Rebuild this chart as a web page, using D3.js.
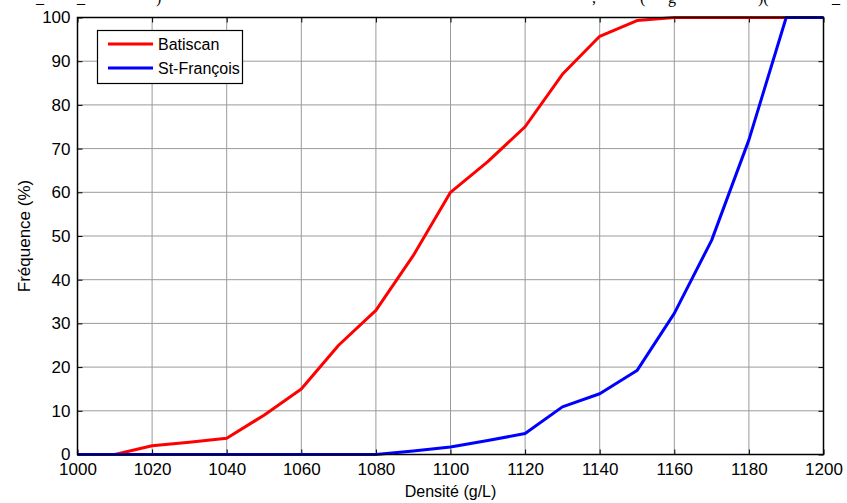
<!DOCTYPE html>
<html><head><meta charset="utf-8">
<script src="https://cdn.jsdelivr.net/npm/d3@7"></script>
<style>body{margin:0;background:#fff}svg{display:block}</style>
</head><body>
<script>
const densite = [1000,1010,1020,1030,1040,1050,1060,1070,1080,1090,1100,1110,1120,1130,1140,1150,1160,1170,1180,1190,1200];
const batiscan = [0,0,2,2.8,3.7,9,15,25,33,45.5,60,67,75,87,95.7,99.3,100,100,100,100,100];
const stFrancois = [0,0,0,0,0,0,0,0,0,0.8,1.7,3.2,4.8,10.9,13.9,19.2,32.3,49,72,100,100];
const seriesNames = ["Batiscan","St-François"];
const seriesColors = ["#ff0000","#0000ff"];
const xTicks = [1000,1020,1040,1060,1080,1100,1120,1140,1160,1180,1200];
const yTicks = [0,10,20,30,40,50,60,70,80,90,100];
// fragments of the cut-off document line above the figure
const topFragments = [["_",36],["_",77],[")",156],[",",592],["(",640],["g",668],[")(",758],["_",832]];

(function(){
const W=847,H=503;
const m={l:77.5,r:23.5,t:17.5,b:48.5};
const svg=d3.select("body").append("svg").attr("width",W).attr("height",H);
const x=d3.scaleLinear().domain([1000,1200]).range([m.l,W-m.r]);
const y=d3.scaleLinear().domain([0,100]).range([H-m.b,m.t]);
const font="Liberation Sans, Arial, sans-serif";

svg.append("g").selectAll("text").data(topFragments).join("text")
 .attr("x",d=>d[1]).attr("y",2.5)
 .attr("font-family","Liberation Serif, Times New Roman, serif").attr("font-size",16).attr("fill","#000")
 .text(d=>d[0]);

// grid
const g=svg.append("g");
g.selectAll(".gx").data(xTicks).join("line")
 .attr("x1",d=>x(d)).attr("x2",d=>x(d)).attr("y1",m.t).attr("y2",H-m.b)
 .attr("stroke","#9a9a9a").attr("stroke-width",1);
g.selectAll(".gy").data(yTicks).join("line")
 .attr("y1",d=>y(d)).attr("y2",d=>y(d)).attr("x1",m.l).attr("x2",W-m.r)
 .attr("stroke","#9a9a9a").attr("stroke-width",1);

// axes (ticks inward)
const ax=svg.append("g");
ax.append("g").attr("transform",`translate(0,${H-m.b})`)
 .call(d3.axisBottom(x).tickValues(xTicks).tickSizeInner(-5).tickSizeOuter(0).tickPadding(8).tickFormat(d3.format("d")));
ax.append("g").attr("transform",`translate(${m.l},0)`)
 .call(d3.axisLeft(y).tickValues(yTicks).tickSizeInner(-5).tickSizeOuter(0).tickPadding(7).tickFormat(d3.format("d")));
ax.append("g").attr("transform",`translate(0,${m.t})`)
 .call(d3.axisTop(x).tickValues(xTicks).tickSizeInner(-5).tickSizeOuter(0).tickFormat(""));
ax.append("g").attr("transform",`translate(${W-m.r},0)`)
 .call(d3.axisRight(y).tickValues(yTicks).tickSizeInner(-5).tickSizeOuter(0).tickFormat(""));
ax.selectAll(".domain").remove();
ax.selectAll("line").attr("stroke","#000");
ax.selectAll("g").attr("font-family",font).attr("font-size",17);
ax.selectAll("text").attr("fill","#000");

// lines
const line=d3.line().x((d,i)=>x(densite[i])).y(d=>y(d));
[batiscan,stFrancois].forEach((s,k)=>{
  svg.append("path").datum(s).attr("d",line).attr("fill","none")
   .attr("stroke",seriesColors[k]).attr("stroke-width",3).attr("stroke-linejoin","round");
});

// box
svg.append("rect").attr("x",m.l).attr("y",m.t).attr("width",W-m.l-m.r).attr("height",H-m.t-m.b)
 .attr("fill","none").attr("stroke","#000").attr("stroke-width",1.5);

// axis labels
svg.append("text").attr("x",(m.l+W-m.r)/2).attr("y",497).attr("text-anchor","middle")
 .attr("font-family",font).attr("font-size",16).text("Densité (g/L)");
svg.append("text").attr("transform",`translate(30,${(m.t+H-m.b)/2}) rotate(-90)`).attr("text-anchor","middle")
 .attr("font-family",font).attr("font-size",17).text("Fréquence (%)");

// legend
const lg=svg.append("g");
lg.append("rect").attr("x",97.5).attr("y",30.5).attr("width",145).attr("height",53)
 .attr("fill","#fff").attr("stroke","#000").attr("stroke-width",1.2);
seriesNames.forEach((n,k)=>{
  const yy=44+k*24;
  lg.append("line").attr("x1",108).attr("x2",153).attr("y1",yy).attr("y2",yy)
   .attr("stroke",seriesColors[k]).attr("stroke-width",3);
  lg.append("text").attr("x",158).attr("y",yy+5.5).attr("font-family",font).attr("font-size",16).text(n);
});
})();
</script>
</body></html>
